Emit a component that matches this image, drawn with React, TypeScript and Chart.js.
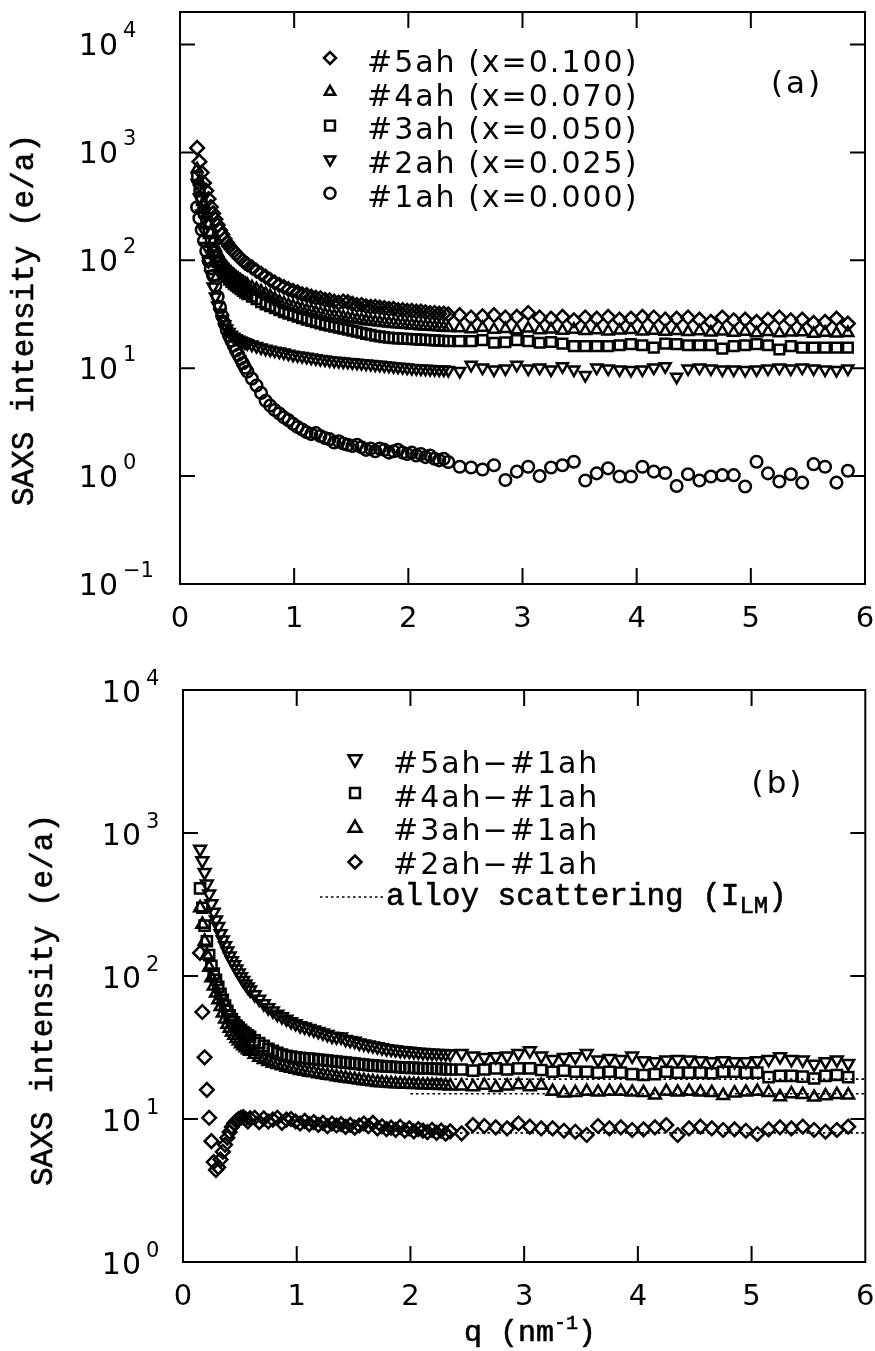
import React, { useEffect, useRef } from "react";
import { Chart, registerables } from "chart.js";

Chart.register(...registerables);

// ---------- data ----------
// scattering vector q (nm^-1): dense region then sparse region
const qValues = [
  0.15, 0.17, 0.19, 0.21, 0.23, 0.25, 0.27, 0.29, 0.31, 0.33, 0.35, 0.37, 0.39, 0.41, 0.43, 0.45, 0.47, 0.49, 0.51, 0.53, 0.55, 0.57, 0.59,
  0.63, 0.67, 0.71, 0.75, 0.79, 0.83, 0.87, 0.91, 0.95, 0.99, 1.03, 1.07, 1.11, 1.15, 1.19, 1.23, 1.27, 1.31, 1.35, 1.39, 1.43, 1.47, 1.51, 1.55, 1.59, 1.63, 1.67, 1.71, 1.75, 1.79, 1.83, 1.87, 1.91, 1.95, 1.99, 2.03, 2.07, 2.11, 2.15, 2.19, 2.23, 2.27, 2.31, 2.35,
  2.45, 2.55, 2.65, 2.75, 2.85, 2.95, 3.05, 3.15, 3.25, 3.35, 3.45, 3.55, 3.65, 3.75, 3.85, 3.95, 4.05, 4.15, 4.25, 4.35, 4.45, 4.55, 4.65, 4.75, 4.85, 4.95, 5.05, 5.15, 5.25, 5.35, 5.45, 5.55, 5.65, 5.75, 5.85,
];

// panel (a)
const a5ah = [
  1100, 820, 650, 520, 440, 370, 312, 272, 240, 212, 190, 173, 158, 146, 136, 128, 121, 115, 109, 104, 99, 95, 92,
  86, 80, 75, 70.5, 66, 62, 59, 56.5, 54, 52, 50.5, 48.5, 47.5, 46, 45, 44.5, 43, 42.5, 41.5, 40.5, 41.5, 41, 39.5, 38.5, 38.5, 37.5, 37, 37, 36.5, 36, 35.5, 35.5, 34.5, 34.5, 34, 34, 33.5, 33.5, 33, 32.5, 32.5, 32, 32, 31.5,
  31, 29.5, 30.3, 31, 29.5, 29.9, 32.5, 29.5, 28.8, 29.9, 27.8, 29.5, 28.8, 29.9, 28.2, 28.8, 29.9, 29.5, 28.2, 28.8, 29.5, 28.2, 26.9, 29.5, 27.8, 28.2, 26.9, 28.2, 29.5, 27.8, 28.2, 26.3, 26.9, 28.8, 25.9,
];
const a4ah = [
  700, 540, 420, 330, 265, 215, 180, 152, 132, 117, 106, 97, 90, 85, 80, 76, 73, 70, 67.5, 65, 63, 61, 59.5,
  56.5, 54, 51.5, 49, 46.5, 44, 41.5, 40, 38.5, 37.5, 36.5, 35.5, 34.5, 34, 33, 32.3, 31.5, 31, 30.5, 30.5, 29.7, 29.2, 28.8, 28.3, 28, 27.6, 27.2, 26.9, 26.6, 26.3, 26.1, 25.8, 25.6, 25.4, 25.2, 25, 24.8, 24.6, 24.4, 24.3, 24.1, 24, 23.8, 23.6,
  23.5, 23, 23.8, 22.8, 23.2, 22.6, 23.4, 22.5, 22.9, 22.3, 22.8, 22.2, 22.6, 22.0, 22.4, 22.7, 21.9, 22.3, 21.8, 22.2, 21.7, 22.1, 21.5, 21.9, 21.4, 21.8, 21.2, 21.7, 21.1, 21.5, 21.6, 20.9, 21.4, 21.0, 21.3,
];
const a3ah = [
  600, 470, 360, 280, 220, 178, 147, 124, 108, 96, 87, 80, 74, 70, 66, 63, 60, 58, 56, 54, 52, 50, 48.5,
  46, 43.5, 41, 39, 37.5, 36, 34.5, 33, 32, 31, 30, 29, 28.2, 27.4, 26.7, 26, 25.3, 24.8, 24.2, 23.7, 23.2, 22.8, 22.3, 21.8, 21.3, 20.8, 20.4, 20, 19.7, 19.4, 19.2, 19, 18.9, 18.8, 18.7, 18.6, 18.5, 18.4, 18.3, 18.2, 18.1, 18, 17.9, 17.8,
  17.8, 17.8, 18.2, 17.2, 17.4, 18.2, 17.8, 17.2, 17.5, 16.9, 16.0, 16.0, 16.0, 16.0, 16.3, 16.7, 16.3, 15.5, 16.9, 16.7, 16.3, 16.3, 16.3, 15.2, 16.0, 16.3, 16.7, 16.3, 14.9, 16.0, 15.5, 15.5, 15.5, 15.5, 15.5,
];
const a2ah = [
  520, 380, 270, 190, 135, 98, 74, 57, 46, 38, 32.5, 28.5, 25.5, 23.3, 21.6, 20.4, 19.5, 18.9, 18.4, 18, 17.6, 17.3, 17,
  16.5, 16, 15.5, 15.1, 14.8, 14.5, 14.2, 13.9, 13.6, 13.3, 13.1, 12.9, 12.7, 12.5, 12.3, 12.1, 12, 11.8, 11.7, 11.6, 11.5, 11.4, 11.3, 11.2, 11.1, 11, 10.9, 10.8, 10.7, 10.6, 10.5, 10.4, 10.3, 10.2, 10.1, 10, 9.95, 9.9, 9.85, 9.8, 9.75, 9.7, 9.7, 9.6,
  9.4, 10.7, 10.1, 9.7, 9.9, 10.7, 9.9, 10.1, 9.7, 10.4, 9.7, 8.6, 10.1, 9.9, 9.7, 9.6, 9.7, 10.1, 10.4, 8.3, 9.9, 10.1, 9.9, 9.7, 9.7, 9.6, 9.7, 9.9, 10.1, 9.9, 10.1, 9.9, 9.7, 9.6, 9.9,
];
const a1ah = [
  310, 245, 192, 152, 122, 99, 84, 72, 58, 46, 37, 30.5, 26, 22.5, 20, 18, 16.2, 14.6, 13.3, 12.2, 11.1, 10.1, 9.3,
  8.0, 6.9, 5.9, 5.0, 4.5, 4.1, 3.8, 3.5, 3.3, 3.05, 2.85, 2.7, 2.55, 2.45, 2.5, 2.35, 2.25, 2.2, 2.05, 2.1, 2.0, 1.95, 1.9, 1.95, 1.85, 1.75, 1.8, 1.7, 1.8, 1.75, 1.65, 1.7, 1.75, 1.65, 1.6, 1.65, 1.55, 1.6, 1.5, 1.55, 1.45, 1.4, 1.45, 1.35,
  1.22, 1.20, 1.15, 1.26, 0.92, 1.10, 1.22, 1.0, 1.20, 1.26, 1.36, 0.91, 1.06, 1.18, 0.99, 0.99, 1.22, 1.10, 1.07, 0.81, 1.04, 0.91, 0.99, 1.02, 1.02, 0.80, 1.36, 1.06, 0.89, 1.04, 0.87, 1.29, 1.22, 0.87, 1.12,
];

// panel (b)
const b5m1 = [
  770, 640, 530, 440, 375, 320, 280, 247, 222, 198, 179, 163, 150, 138, 128, 120, 112, 105, 99, 93, 88, 84, 80,
  74, 69, 64, 60, 57, 54, 52, 50, 48, 46.5, 45, 44, 43, 42, 41, 40, 39, 38, 37.5, 37.5, 36, 35.5, 35, 34, 33.5, 33, 32.5, 32, 31.5, 31, 30.8, 30.5, 30.2, 30, 29.8, 29.6, 29.4, 29.2, 29, 28.9, 28.8, 28.7, 28.6, 28.5,
  28.8, 27.6, 27.0, 27.3, 27.6, 28.8, 30.0, 27.6, 26.1, 27.0, 27.3, 28.8, 25.9, 26.5, 26.1, 27.6, 25.6, 25.2, 25.9, 26.1, 25.9, 25.6, 25.2, 25.6, 25.2, 25.2, 25.6, 26.1, 27.3, 26.1, 25.9, 24.2, 25.2, 25.9, 24.5,
];
const b4m1 = [
  410, 300, 225, 175, 140, 118, 104, 94, 84, 75, 68, 62, 57, 53, 50, 47.5, 45, 43.5, 42, 40.5, 39.5, 38.5, 37.5,
  35.5, 34, 32.5, 31, 30, 29, 28.2, 27.7, 27.3, 27, 26.8, 26.6, 26.4, 26.2, 26, 25.8, 25.6, 25.4, 25.2, 25, 24.8, 24.6, 24.4, 24.2, 24, 23.8, 23.6, 23.5, 23.4, 23.3, 23.2, 23.1, 23, 22.9, 22.8, 22.8, 22.7, 22.6, 22.6, 22.5, 22.4, 22.4, 22.3, 22.2,
  22.2, 21.8, 22.2, 22.6, 22.2, 22.6, 22.6, 22.0, 21.4, 21.8, 21.4, 21.4, 21.1, 21.4, 21.1, 20.6, 20.3, 20.6, 21.4, 21.1, 21.1, 21.1, 20.9, 21.4, 21.4, 21.1, 21.1, 19.6, 20.0, 20.0, 19.8, 19.2, 20.0, 20.3, 19.6,
];
const b3m1 = [
  300, 230, 175, 140, 115, 97, 85, 76, 68, 61, 55, 50, 46, 43, 40.5, 38.5, 36.5, 35, 33.5, 32.5, 31.5, 30.5, 29.7,
  28.3, 27, 26, 25.2, 24.5, 24, 23.5, 23, 22.6, 22.2, 21.8, 21.5, 21.2, 21, 20.7, 20.4, 20.2, 20, 19.7, 19.5, 19.3, 19.1, 18.9, 18.7, 18.5, 18.3, 18.2, 18, 17.9, 17.8, 17.7, 17.6, 17.6, 17.5, 17.5, 17.4, 17.4, 17.3, 17.3, 17.2, 17.2, 17.1, 17.1, 17.0,
  17.0, 16.8, 17.2, 16.6, 17.0, 17.3, 16.8, 17.2, 15.6, 15.2, 15.3, 15.6, 15.4, 15.6, 15.6, 15.4, 15.3, 14.7, 15.6, 15.4, 15.6, 15.4, 15.3, 14.6, 15.2, 15.4, 15.6, 15.3, 14.3, 15.0, 14.8, 14.2, 14.5, 14.8, 14.7,
];
const b2m1 = [
  145, 56, 27, 16, 10.2, 7.0, 5.0, 4.4, 4.6, 5.2, 5.9, 6.6, 7.4, 8.1, 8.8, 9.3, 9.7, 10.0, 10.2, 10.3, 10.0, 9.6, 10.1,
  10.2, 9.5, 10.1, 9.6, 9.9, 10.2, 9.4, 9.9, 10.0, 9.6, 9.3, 9.7, 9.2, 9.5, 9.1, 9.4, 8.9, 9.3, 9.0, 9.2, 8.8, 9.1, 8.7, 9.0, 9.3, 8.9, 9.4, 8.6, 8.9, 8.5, 8.7, 8.4, 8.8, 8.3, 8.6, 8.2, 8.5, 8.3, 8.1, 8.4, 8.0, 8.3, 7.9, 8.2,
  7.94, 9.08, 8.93, 8.74, 8.6, 9.3, 8.84, 8.6, 8.6, 8.28, 8.15, 7.73, 8.93, 8.6, 8.74, 8.38, 8.47, 8.74, 9.08, 7.73, 8.6, 8.84, 8.6, 8.38, 8.47, 8.28, 7.86, 8.47, 8.74, 8.6, 8.84, 8.38, 8.15, 8.38, 8.84,
];

// alloy scattering I_LM levels (dotted lines) and their q span
const ilmQ = [2.0, 6.0];
const ilm4 = [19.0, 19.0];
const ilm3 = [15.0, 15.0];
const ilm2 = [8.0, 8.0];

// labels / ticks
const labelsA = ["#5ah (x=0.100)", "#4ah (x=0.070)", "#3ah (x=0.050)", "#2ah (x=0.025)", "#1ah (x=0.000)"];
const labelsB = ["#5ah\u2212#1ah", "#4ah\u2212#1ah", "#3ah\u2212#1ah", "#2ah\u2212#1ah"];
const ilmLabel = "alloy scattering (I";
const ilmSub = "LM";
const xTickValues = [0, 1, 2, 3, 4, 5, 6];
const xTickLabels = ["0", "1", "2", "3", "4", "5", "6"];
const yExpA = [-1, 0, 1, 2, 3, 4];
const yExpB = [0, 1, 2, 3, 4];
const yTitle = "SAXS intensity (e/a)";

// ---------- drawing helpers ----------
const SANS = '"DejaVu Sans", "Liberation Sans", sans-serif';
const MONO = '"Liberation Mono", "Courier New", monospace';
const MARKER_W = 2.5;

function pts(vals: number[]) {
  return vals.map((v, i) => ({ x: qValues[i], y: v }));
}

function markerPath(ctx: CanvasRenderingContext2D, style: string, rot: number, x: number, y: number, r: number) {
  ctx.beginPath();
  if (style === "circle") {
    ctx.arc(x, y, r, 0, Math.PI * 2);
  } else if (style === "rectRot") {
    ctx.moveTo(x - r, y);
    ctx.lineTo(x, y - r);
    ctx.lineTo(x + r, y);
    ctx.lineTo(x, y + r);
    ctx.closePath();
  } else if (style === "rect") {
    const s = r * Math.SQRT1_2;
    ctx.rect(x - s, y - s, 2 * s, 2 * s);
  } else if (style === "triangle") {
    let a = (rot * Math.PI) / 180;
    ctx.moveTo(x + Math.sin(a) * r, y - Math.cos(a) * r);
    a += (2 * Math.PI) / 3;
    ctx.lineTo(x + Math.sin(a) * r, y - Math.cos(a) * r);
    a += (2 * Math.PI) / 3;
    ctx.lineTo(x + Math.sin(a) * r, y - Math.cos(a) * r);
    ctx.closePath();
  }
  ctx.stroke();
}

function drawFrame(chart: any, innerY: number[]) {
  const { ctx, chartArea: ca } = chart;
  const xs = chart.scales.x;
  const ys = chart.scales.y;
  ctx.save();
  ctx.strokeStyle = "#000";
  ctx.lineWidth = 2;
  ctx.strokeRect(ca.left, ca.top, ca.right - ca.left, ca.bottom - ca.top);
  ctx.beginPath();
  xTickValues.slice(1, -1).forEach((v) => {
    const px = xs.getPixelForValue(v);
    ctx.moveTo(px, ca.bottom);
    ctx.lineTo(px, ca.bottom - 16);
    ctx.moveTo(px, ca.top);
    ctx.lineTo(px, ca.top + 16);
  });
  innerY.forEach((e) => {
    const py = ys.getPixelForValue(Math.pow(10, e));
    ctx.moveTo(ca.left, py);
    ctx.lineTo(ca.left + 15, py);
    ctx.moveTo(ca.right, py);
    ctx.lineTo(ca.right - 15, py);
  });
  ctx.stroke();
  ctx.restore();
}

function drawYLabels(chart: any, exps: number[], rightX: number, expDy: number, baseDy: number) {
  const { ctx } = chart;
  const ys = chart.scales.y;
  ctx.save();
  ctx.fillStyle = "#000";
  exps.forEach((e) => {
    const py = ys.getPixelForValue(Math.pow(10, e));
    ctx.font = `30px ${SANS}`;
    ctx.textAlign = "right";
    ctx.textBaseline = "alphabetic";
    (ctx as any).letterSpacing = "1px";
    ctx.fillText("10", rightX, py + baseDy);
    ctx.font = `21px ${SANS}`;
    ctx.textAlign = "left";
    (ctx as any).letterSpacing = "0px";
    ctx.fillText(e < 0 ? "\u2212" + Math.abs(e) : String(e), rightX + 4, py + expDy);
  });
  ctx.restore();
}

function drawXLabels(chart: any, baseY: number) {
  const { ctx } = chart;
  const xs = chart.scales.x;
  ctx.save();
  ctx.fillStyle = "#000";
  ctx.font = `29px ${SANS}`;
  ctx.textAlign = "center";
  ctx.textBaseline = "alphabetic";
  xTickValues.forEach((v, i) => {
    ctx.fillText(xTickLabels[i], xs.getPixelForValue(v), baseY);
  });
  ctx.restore();
}

function drawYTitle(chart: any, bx: number, cy: number) {
  const { ctx } = chart;
  ctx.save();
  ctx.fillStyle = "#000";
  ctx.strokeStyle = "#000";
  ctx.lineWidth = 0.6;
  ctx.font = `31px ${MONO}`;
  ctx.translate(bx, cy);
  ctx.rotate(-Math.PI / 2);
  ctx.textAlign = "center";
  ctx.textBaseline = "alphabetic";
  ctx.fillText(yTitle, 0, 0);
  ctx.strokeText(yTitle, 0, 0);
  ctx.restore();
}

function drawLegendRow(ctx: CanvasRenderingContext2D, ds: any, mx: number, my: number, r: number, text: string, tx: number, tBase: number) {
  ctx.save();
  ctx.strokeStyle = "#000";
  ctx.lineWidth = MARKER_W;
  markerPath(ctx, ds.pointStyle, ds.pointRotation || 0, mx, my, r);
  ctx.fillStyle = "#000";
  ctx.font = `30px ${SANS}`;
  ctx.textAlign = "left";
  ctx.textBaseline = "alphabetic";
  (ctx as any).letterSpacing = "2px";
  ctx.fillText(text, tx, tBase);
  ctx.restore();
}

const panelAPlugin = {
  id: "panelA",
  afterDraw(chart: any) {
    const { ctx } = chart;
    drawFrame(chart, [0, 1, 2, 3, 4]);
    drawYLabels(chart, yExpA, 119, -7, 11);
    drawXLabels(chart, 627);
    drawYTitle(chart, 33, 320);
    const legendR = [6, 6, 7, 6, 5.5];
    chart.data.datasets.forEach((ds: any, i: number) => {
      drawLegendRow(ctx, ds, 330, 58 + 33.8 * i, legendR[i], labelsA[i], 367, 72 + 33.7 * i);
    });
    ctx.save();
    ctx.fillStyle = "#000";
    ctx.font = `31px ${SANS}`;
    ctx.textAlign = "center";
    (ctx as any).letterSpacing = "3px";
    ctx.fillText("(a)", 797, 93);
    ctx.restore();
  },
};

const panelBPlugin = {
  id: "panelB",
  afterDraw(chart: any) {
    const { ctx } = chart;
    drawFrame(chart, [1, 2, 3]);
    drawYLabels(chart, yExpB, 142, -5.5, 12);
    drawXLabels(chart, 655);
    drawYTitle(chart, 52, 350);
    const legendR = [7.5, 7, 7.5, 6.5];
    const rowsM = [109, 143, 178, 212];
    chart.data.datasets.slice(0, 4).forEach((ds: any, i: number) => {
      drawLegendRow(ctx, ds, 355, rowsM[i], legendR[i], labelsB[i], 393, 123 + 33.6 * i);
    });
    ctx.save();
    ctx.strokeStyle = "#000";
    ctx.lineWidth = 1.6;
    ctx.setLineDash([2.5, 3]);
    ctx.beginPath();
    ctx.moveTo(320, 247);
    ctx.lineTo(384, 247);
    ctx.stroke();
    ctx.setLineDash([]);
    ctx.fillStyle = "#000";
    ctx.lineWidth = 0.6;
    ctx.textAlign = "left";
    ctx.textBaseline = "alphabetic";
    ctx.font = `31px ${MONO}`;
    ctx.fillText(ilmLabel, 386, 255);
    ctx.strokeText(ilmLabel, 386, 255);
    let x = 386 + ctx.measureText(ilmLabel).width;
    ctx.font = `24px ${MONO}`;
    ctx.fillText(ilmSub, x, 263);
    ctx.strokeText(ilmSub, x, 263);
    x += ctx.measureText(ilmSub).width;
    ctx.font = `31px ${MONO}`;
    ctx.fillText(")", x, 255);
    ctx.strokeText(")", x, 255);
    // (b)
    ctx.font = `31px ${SANS}`;
    ctx.textAlign = "center";
    (ctx as any).letterSpacing = "3px";
    ctx.fillText("(b)", 778, 143);
    (ctx as any).letterSpacing = "0px";
    // x title
    ctx.textAlign = "left";
    ctx.font = `30px ${MONO}`;
    const t1 = "q (nm";
    ctx.fillText(t1, 464, 691);
    ctx.strokeText(t1, 464, 691);
    let xx = 464 + ctx.measureText(t1).width;
    ctx.font = `20px ${MONO}`;
    ctx.fillText("-1", xx, 679);
    ctx.strokeText("-1", xx, 679);
    xx += ctx.measureText("-1").width;
    ctx.font = `30px ${MONO}`;
    ctx.fillText(")", xx, 691);
    ctx.strokeText(")", xx, 691);
    ctx.restore();
  },
};

function scatterSet(label: string, data: number[], style: string, r: number, rot = 0) {
  return {
    label,
    data: pts(data),
    showLine: false,
    pointStyle: style,
    pointRotation: rot,
    pointRadius: r,
    pointBorderWidth: MARKER_W,
    pointBorderColor: "#000",
    pointBackgroundColor: "rgba(0,0,0,0)",
  };
}

function dottedSet(label: string, levels: number[]) {
  return {
    label,
    data: ilmQ.map((q, i) => ({ x: q, y: levels[i] })),
    showLine: true,
    borderColor: "#000",
    borderWidth: 1.6,
    borderDash: [2.5, 3],
    pointRadius: 0,
    fill: false,
  };
}

function baseOptions(padding: any, yMin: number, yMax: number) {
  return {
    responsive: false,
    maintainAspectRatio: false,
    animation: false,
    devicePixelRatio: 1,
    events: [],
    layout: { padding },
    plugins: { legend: { display: false }, tooltip: { enabled: false }, title: { display: false } },
    scales: {
      x: { type: "linear", min: 0, max: 6, display: false },
      y: { type: "logarithmic", min: yMin, max: yMax, display: false },
    },
  };
}

export default function App() {
  const refA = useRef<HTMLCanvasElement>(null);
  const refB = useRef<HTMLCanvasElement>(null);

  useEffect(() => {
    const chartA = new Chart(refA.current as HTMLCanvasElement, {
      type: "scatter",
      data: {
        datasets: [
          scatterSet(labelsA[0], a5ah, "rectRot", 6.8),
          scatterSet(labelsA[1], a4ah, "triangle", 6.3),
          scatterSet(labelsA[2], a3ah, "rect", 6.8),
          scatterSet(labelsA[3], a2ah, "triangle", 6.3, 180),
          scatterSet(labelsA[4], a1ah, "circle", 5.8),
        ],
      },
      options: baseOptions({ left: 180, top: 12, right: 10, bottom: 66 }, 0.1, 20000) as any,
      plugins: [panelAPlugin],
    } as any);

    const chartB = new Chart(refB.current as HTMLCanvasElement, {
      type: "scatter",
      data: {
        datasets: [
          scatterSet(labelsB[0], b5m1, "triangle", 6.8, 180),
          scatterSet(labelsB[1], b4m1, "rect", 7.2),
          scatterSet(labelsB[2], b3m1, "triangle", 6.8),
          scatterSet(labelsB[3], b2m1, "rectRot", 6.8),
          dottedSet("I_LM #4", ilm4),
          dottedSet("I_LM #3", ilm3),
          dottedSet("I_LM #2", ilm2),
        ],
      },
      options: baseOptions({ left: 183, top: 40, right: 7, bottom: 89 }, 1, 10000) as any,
      plugins: [panelBPlugin],
    } as any);

    return () => {
      chartA.destroy();
      chartB.destroy();
    };
  }, []);

  return (
    <div style={{ position: "absolute", left: 0, top: 0, width: 875, height: 1351, background: "#fff" }}>
      <canvas ref={refA} width={875} height={650} style={{ position: "absolute", left: 0, top: 0, width: 875, height: 650 }} />
      <canvas ref={refB} width={875} height={701} style={{ position: "absolute", left: 0, top: 650, width: 875, height: 701 }} />
    </div>
  );
}
